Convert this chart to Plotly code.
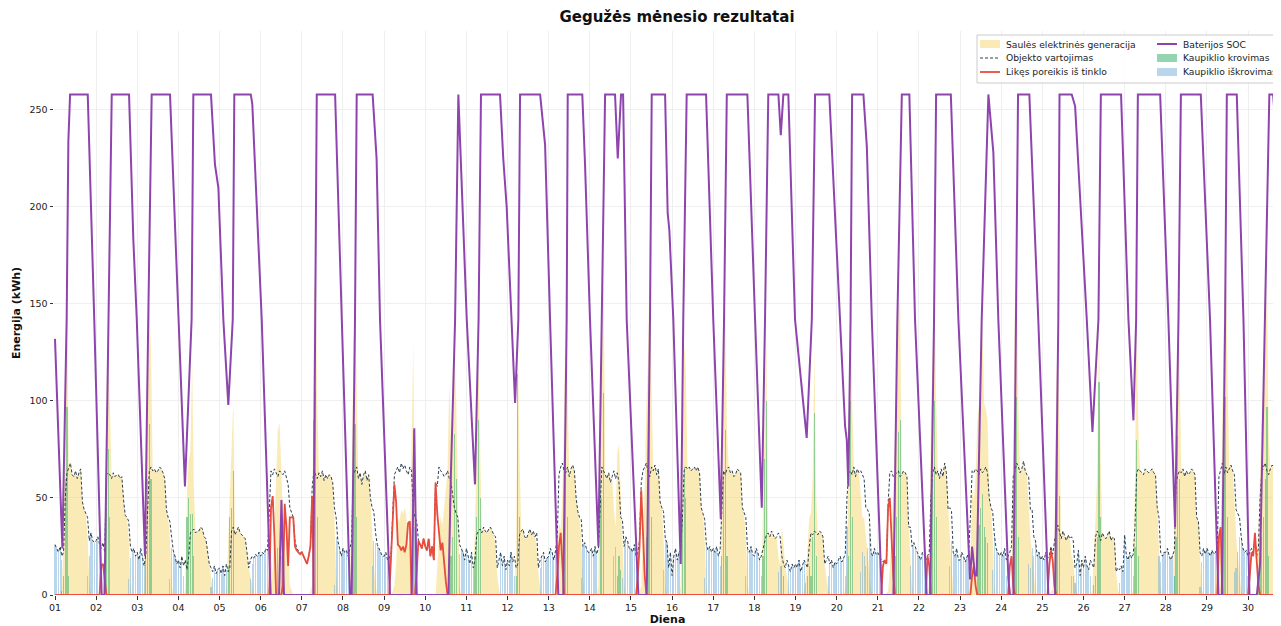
import pandas as pd
import plotly.graph_objects as go

START = pd.Timestamp("2024-05-01 00:00")
FONT = "DejaVu Sans"

# Hourly consumption per day (kWh), May 1 .. May 30
cons_days = [
    [26,24,22,25,20,22,50,63,66,68,62,61,64,60,63,65,48,44,42,40,28,32,28,27],
    [28,30,26,24,27,22,62,63,62,60,63,61,62,62,60,61,49,41,40,38,25,22,24,20],
    [22,18,24,20,15,21,40,64,66,64,65,63,64,66,65,63,60,44,40,38,30,23,20,16],
    [18,14,20,15,18,13,20,32,33,34,32,33,33,35,34,30,29,22,16,14,12,15,11,13],
    [14,11,15,10,16,12,14,33,35,31,33,35,32,31,30,29,22,14,18,20,19,21,20,22],
    [20,22,21,24,23,40,64,62,65,63,61,64,63,62,64,60,57,45,42,40,28,24,23,22],
    [22,20,18,16,20,25,55,64,62,60,63,61,64,59,62,60,62,61,58,45,40,28,24,20],
    [24,22,23,20,24,28,62,64,66,60,63,57,62,64,59,62,50,45,43,32,26,24,22,20],
    [20,22,18,19,21,45,62,64,66,63,68,65,67,64,62,66,64,44,40,38,28,26,24,29],
    [25,23,29,20,25,18,58,56,66,64,63,61,62,64,60,58,50,45,42,40,26,24,22,18],
    [24,20,16,22,14,18,31,33,34,32,35,33,32,34,35,33,31,30,14,18,22,15,20,13],
    [18,15,22,17,20,14,16,31,33,34,30,29,32,34,31,33,30,32,14,18,20,22,17,19],
    [20,24,22,18,23,30,62,66,68,64,63,66,61,65,67,64,50,43,40,39,25,27,24,22],
    [22,24,20,25,21,24,45,66,64,62,60,63,58,61,64,60,63,58,40,39,25,30,28,24],
    [24,22,26,20,22,28,58,64,66,68,63,61,66,64,67,62,65,48,45,43,29,27,14,22],
    [10,20,24,18,22,23,40,64,66,65,66,64,65,66,64,66,63,45,42,39,26,23,25,22],
    [24,22,25,20,23,40,64,62,65,66,63,64,61,62,65,64,63,45,42,40,24,22,25,21],
    [20,24,22,18,20,24,28,31,32,30,33,31,29,30,32,30,20,16,14,18,15,12,16,14],
    [16,14,18,12,15,18,16,14,25,32,31,33,32,31,33,32,30,16,18,20,16,18,14,17],
    [16,18,20,17,19,21,50,63,64,62,66,61,65,63,64,62,60,45,44,42,22,20,24,21],
    [22,20,18,17,18,16,47,63,64,61,62,63,64,61,62,64,63,61,35,35,25,27,24,22],
    [20,18,22,21,18,20,22,50,63,66,62,64,60,65,61,68,63,44,45,43,22,20,24,18],
    [18,22,20,17,20,22,40,64,63,65,64,62,65,63,64,66,63,50,45,43,31,24,22,20],
    [22,20,24,18,20,22,25,61,64,68,66,63,65,69,64,62,61,44,44,30,28,20,22,18],
    [20,18,22,19,20,25,21,28,33,36,32,29,33,30,28,31,29,30,28,14,16,23,10,18],
    [14,20,15,13,18,16,14,30,33,31,28,32,30,29,31,33,28,30,29,12,14,13,15,12],
    [31,20,18,22,19,21,35,63,65,64,63,62,65,64,63,64,65,63,62,45,40,22,20,22],
    [22,24,20,18,21,23,58,62,64,63,65,61,64,62,63,65,64,62,40,38,22,20,24,21],
    [24,22,20,23,21,22,25,61,64,68,62,66,63,65,67,64,62,44,42,40,30,24,22,23],
    [20,22,24,21,30,20,24,50,63,66,68,64,62,65,67,66,63,50,45,42,30,25,22,20],
]

# Hourly solar generation used (kWh)
solar_days = [
    [0,0,0,0,2,30,110,160,66,68,62,61,64,60,63,65,48,44,42,30,8,0,0,0],
    [0,0,0,0,2,30,100,140,100,60,63,61,62,62,60,61,49,41,40,30,6,0,0,0],
    [0,0,0,0,2,51,100,152,126,64,65,63,64,66,65,63,60,44,40,30,6,0,0,0],
    [0,0,0,0,3,53,70,74,121,54,32,33,33,35,34,30,29,22,16,10,3,0,0,0],
    [0,0,0,0,3,27,54,78,100,31,33,35,32,31,30,29,22,14,10,4,0,0,0,0],
    [0,0,0,0,2,5,19,11,35,63,85,89,63,32,17,25,42,5,2,0,0,0,0,0],
    [0,0,0,0,0,2,5,154,167,100,63,61,64,59,62,60,62,61,58,40,10,0,0,0],
    [0,0,0,0,0,48,122,152,106,60,63,57,62,64,59,62,50,30,15,5,0,0,0,0],
    [0,0,0,0,0,2,5,16,40,38,44,42,45,40,25,28,84,130,5,2,0,0,0,0],
    [0,0,0,0,0,0,0,14,32,41,36,45,55,64,110,78,80,128,102,40,5,0,0,0],
    [0,0,0,0,0,38,71,123,84,32,35,33,32,34,35,33,31,25,10,3,0,0,0,0],
    [0,0,0,0,0,24,130,71,33,34,30,29,32,34,31,33,30,25,12,4,0,0,0,0],
    [0,0,0,0,0,20,37,34,53,94,158,106,61,65,67,64,50,43,40,30,8,0,0,0],
    [0,0,0,0,0,5,105,116,168,62,60,63,58,61,44,35,73,78,53,30,5,0,0,0],
    [0,0,0,0,0,3,4,34,56,98,123,185,106,64,67,62,65,48,45,30,5,0,0,0],
    [0,0,0,0,0,5,80,130,116,65,66,64,65,66,64,66,63,45,42,30,5,0,0,0],
    [0,0,0,0,0,60,124,147,85,66,63,64,61,62,65,64,63,45,42,30,5,0,0,0],
    [0,0,0,0,0,44,98,131,32,30,33,31,29,30,20,15,35,26,14,10,3,0,0,0],
    [0,0,0,0,0,3,10,24,40,42,61,127,52,31,33,32,30,16,10,3,0,0,0,0],
    [0,0,0,0,0,3,15,83,164,102,66,61,65,63,50,40,40,30,20,10,3,0,0,0],
    [0,0,0,0,0,1,2,13,34,51,82,103,148,151,62,64,63,61,35,20,5,0,0,0],
    [0,0,0,0,0,0,7,90,123,166,102,64,60,65,61,68,63,44,30,15,2,0,0,0],
    [0,0,0,0,0,2,20,54,48,60,89,98,110,140,99,96,90,50,45,30,5,0,0,0],
    [0,0,0,0,0,2,5,81,154,170,96,63,65,69,64,62,45,30,20,10,2,0,0,0],
    [0,0,0,0,0,2,3,23,103,136,83,29,33,30,28,31,29,20,18,8,2,0,0,0],
    [0,0,0,0,0,2,19,40,63,141,68,32,30,29,31,33,28,30,29,12,3,0,0,0],
    [0,0,0,0,0,3,60,143,85,64,63,62,65,64,63,64,65,63,62,45,20,5,0,0],
    [0,0,0,0,0,33,88,144,124,63,65,61,64,62,63,65,64,62,40,38,18,3,0,0],
    [0,0,0,0,0,2,20,31,29,88,152,168,103,65,67,64,50,30,20,10,2,0,0,0],
    [0,0,0,0,0,2,29,65,93,106,128,161,83,65,67,66,50,45,20,8,2,0,0,0],
]

# Hourly battery discharge (kWh)
discharge_days = [
    [26,24,22,25,18,0,0,0,0,0,0,0,0,0,0,0,0,0,0,10,20,32,28,27],
    [28,30,26,0,0,0,0,0,0,0,0,0,0,0,0,0,0,0,0,8,19,22,24,20],
    [22,18,24,20,15,0,0,0,0,0,0,0,0,0,0,0,0,0,0,8,24,23,20,16],
    [18,14,20,10,0,0,0,0,0,0,0,0,0,0,0,0,0,0,0,4,9,15,11,13],
    [14,11,15,10,13,0,0,0,0,0,0,0,0,0,0,0,0,0,8,16,19,21,20,22],
    [20,22,21,24,23,25,0,0,0,0,0,0,20,29,0,0,0,0,0,0,0,0,0,0],
    [0,0,0,0,0,0,0,0,0,0,0,0,0,0,0,0,0,0,0,5,30,28,24,20],
    [24,22,23,20,10,0,0,0,0,0,0,0,0,0,0,0,0,15,28,27,26,24,22,20],
    [20,22,18,10,0,0,0,0,0,0,0,0,0,0,0,0,0,0,35,26,0,0,0,0],
    [0,0,0,0,0,0,0,0,0,0,0,0,0,0,0,0,0,0,0,0,21,24,22,18],
    [24,20,16,22,14,0,0,0,0,0,0,0,0,0,0,0,0,0,0,0,22,15,20,13],
    [18,15,22,17,10,0,0,0,0,0,0,0,0,0,0,0,0,0,0,14,20,22,17,19],
    [20,24,22,18,23,0,0,0,0,0,0,0,0,0,0,0,0,0,0,9,25,27,24,22],
    [22,24,20,25,21,0,0,0,0,0,0,0,0,0,20,25,0,0,0,9,25,30,28,24],
    [24,22,26,15,0,0,0,0,0,0,0,0,0,0,0,0,0,0,0,13,29,27,14,22],
    [10,20,24,18,22,0,0,0,0,0,0,0,0,0,0,0,0,0,0,9,26,23,25,22],
    [24,22,25,20,15,0,0,0,0,0,0,0,0,0,0,0,0,0,0,10,24,22,25,21],
    [20,24,22,18,10,0,0,0,0,0,0,0,0,0,12,15,0,0,0,0,15,12,16,14],
    [16,14,18,12,15,18,6,0,0,0,0,0,0,0,0,0,0,0,0,10,16,18,14,17],
    [16,18,20,17,19,10,35,0,0,0,0,0,0,0,12,22,20,15,24,32,22,20,24,21],
    [22,20,8,0,0,0,0,0,0,0,0,0,0,0,0,0,0,0,0,15,25,27,24,22],
    [20,18,22,21,12,0,0,0,0,0,0,0,0,0,0,0,0,0,15,28,22,20,24,18],
    [18,22,20,17,20,15,0,0,0,0,0,0,0,0,0,0,0,0,0,13,31,24,22,20],
    [22,20,24,10,0,0,0,0,0,0,0,0,0,0,0,0,16,14,24,20,28,20,22,18],
    [20,18,22,10,0,0,0,0,0,0,0,0,0,0,0,0,0,10,10,6,16,23,10,18],
    [14,20,15,13,10,0,0,0,0,0,0,0,0,0,0,0,0,0,0,0,0,6,15,12],
    [31,20,18,22,19,10,0,0,0,0,0,0,0,0,0,0,0,0,0,0,20,17,20,22],
    [22,24,20,18,21,10,0,0,0,0,0,0,0,0,0,0,0,0,0,0,4,17,24,21],
    [24,22,20,23,21,22,5,0,0,0,0,0,0,0,0,0,12,14,22,30,28,24,22,23],
    [10,0,0,0,0,0,0,0,0,0,0,0,0,0,0,13,13,5,25,34,28,25,22,20],
]

# Battery charging (hour from May 1 00:00, kWh)
charge_points = [
    (4,2),(5,10),(6,60),(7,97),(8,10),
    (29,10),(30,45),(31,75),(32,40),
    (53,30),(54,60),(55,88),(56,60),
    (77,40),(78,50),(79,42),(80,42),(81,20),
    (101,15),(102,40),(103,45),(104,64),
    (130,24),(131,25),
    (151,90),(152,105),(153,40),
    (173,20),(174,60),(175,88),(176,40),
    (208,20),(209,85),
    (230,50),(231,20),(232,30),(233,83),(234,60),
    (245,20),(246,40),(247,90),(248,50),
    (269,10),(270,114),(271,40),
    (297,30),(298,95),(299,40),
    (318,60),(319,50),(320,104),(328,10),(329,20),(330,13),
    (345,30),(346,60),(347,124),(348,40),
    (366,40),(367,66),(368,50),
    (389,20),(390,60),(391,85),(392,20),
    (413,20),(414,70),(415,100),(424,15),(425,10),
    (439,10),(440,15),(441,10),(442,30),(443,94),(444,20),
    (463,20),(464,100),(465,40),
    (490,20),(491,40),(492,84),(493,90),
    (511,40),(512,60),(513,100),(514,40),
    (538,25),(539,36),(540,45),(541,52),(542,35),(543,30),(544,27),
    (559,20),(560,90),(561,102),(562,30),
    (584,70),(585,100),(586,51),
    (606,5),(607,10),(608,30),(609,110),(610,40),
    (630,25),(631,80),(632,20),
    (653,10),(654,30),(655,82),(656,60),
    (681,20),(682,90),(683,102),(684,40),
    (702,5),(703,15),(704,30),(705,40),(706,60),(707,97),(708,20),
]

# Remaining demand from grid (hour, kWh); all other hours are 0
grid_points = [
    (27,15),(28,16),(29,8),
    (126,45),(127,51),(128,30),(133,5),(134,47),(135,35),(136,15),(137,40),
    (138,40),(139,40),(140,25),(141,23),(142,22),(143,21),
    (144,22),(145,20),(146,18),(147,16),(148,20),(149,25),(150,51),
    (196,19),(197,40),(198,57),(199,48),(200,26),(201,25),(202,23),(203,25),
    (204,22),(205,26),(206,37),(207,38),
    (211,12),(212,28),(213,26),(214,24),(215,29),
    (216,25),(217,23),(218,29),(219,20),(220,25),(221,18),(222,58),(223,42),
    (224,34),(225,23),(226,27),(227,16),(228,7),
    (293,10),(294,25),(295,32),(296,15),
    (340,10),(341,25),(342,54),(343,30),(344,10),
    (483,15),(484,18),(485,16),(486,45),(487,50),(488,30),(489,10),
    (509,20),(510,15),
    (535,10),(536,15),(537,5),
    (557,15),(558,20),(559,5),
    (580,15),(581,23),(582,18),(583,5),
    (679,30),(680,35),
    (697,10),(698,22),(699,20),(700,32),(701,18),(702,5),
]

# Battery state of charge (hour, kWh)
soc_points = [
    (0,132),(4.3,24),(6.8,142),(7.8,234),(8.8,258),(19.1,258),(22.9,142),(27.2,0),
    (28.9,0),(31.1,142),(33.1,258),(43.2,258),(45.7,183),(47.7,142),(52.5,20),
    (54.4,142),(56.4,258),(67.1,258),(69.0,214),(71.0,158),(71.9,142),(75.8,56),
    (79.7,142),(80.7,258),(91.0,258),(93.3,222),(95.3,210),(98.2,142),(101.1,98),
    (103.7,142),(104.6,258),(114.2,258),(115.1,253),(120.6,142),(125.8,0),
    (130.7,0),(132.1,49),(133.6,0),(150.7,0),(152.7,258),(163.4,258),(167.3,142),
    (172.1,0),(173.1,0),(175.0,142),(176.0,258),(185.3,258),(187.6,225),(189.6,142),
    (195.4,0),(208.1,0),(209.6,86),(211.0,0),(229.5,0),(230.9,60),(233.4,142),
    (235.3,258),(240.2,142),(245.0,57),(247.1,142),(248.5,258),(259.6,258),
    (261.5,225),(263.5,200),(266.4,142),(268.4,99),(270.3,142),(271.3,258),
    (283.0,258),(285.9,232),(288.8,142),(293.6,0),(296.5,0),(298.5,142),(299.1,258),
    (307.6,258),(309.2,222),(312.1,142),(317.0,25),(318.9,142),(320.9,258),
    (326.7,258),(328.3,225),(330.2,258),(331.4,258),(333.5,142),(340.3,0),
    (345.2,0),(347.1,142),(348.1,258),(355.9,258),(357.4,197),(358.4,188),
    (360.7,142),(365.0,16),(366.5,142),(368.5,258),(379.8,258),(384.0,142),
    (388.4,39),(390.3,142),(391.9,258),(403.9,258),(408.4,142),(412.3,45),
    (414.2,142),(416.1,258),(422.0,258),(423.4,237),(424.9,258),(427.8,258),
    (431.7,142),(438.5,81),(441.5,142),(443.4,258),(451.7,258),(458.0,142),
    (460.9,87),(461.9,80),(462.8,56),(464.1,142),(465.0,258),(471.6,258),
    (473.6,231),(476.5,142),(482.3,0),(489.1,0),(491.4,142),(494.0,258),
    (498.4,258),(501.7,142),(508.5,0),(510.5,0),(512.8,142),(514.0,258),
    (522.6,258),(527.0,142),(533.8,8),(535.0,25),(536.7,10),(537.7,10),
    (540.6,142),(544.5,258),(545.9,245),(547.4,228),(550.3,142),(556.2,8),
    (557.1,0),(559.1,0),(560.6,142),(561.8,258),(568.4,258),(573.6,142),
    (579.5,0),(583.4,0),(585.3,142),(586.0,258),(593.1,258),(593.9,255),
    (595.1,252),(601.9,142),(605.2,84),(608.7,142),(610.1,258),(621.9,258),
    (626.2,142),(629.1,90),(630.7,142),(631.7,258),(644.7,258),(649.5,142),
    (653.4,35),(655.4,142),(656.8,258),(668.4,258),(673.8,142),(678.7,0),
    (680.7,0),(682.6,142),(683.6,258),(689.4,258),(693.3,142),(696.8,0),
    (701.1,0),(703.0,16),(705.9,142),(708.4,258),(710.6,258),(711.7,245),
    (712.9,241),(715.2,200),(717.6,150),
]

for nm, rows in (("cons", cons_days), ("solar", solar_days), ("dis", discharge_days)):
    assert len(rows) == 30, nm
    for i, r in enumerate(rows):
        assert len(r) == 24, (nm, i, len(r))

n_hours = 24 * len(cons_days)
times = [START + pd.Timedelta(hours=h) for h in range(n_hours)]
consumption = [v for row in cons_days for v in row]
solar = [v for row in solar_days for v in row]
discharge = [v for row in discharge_days for v in row]
grid = [0] * n_hours
for h, v in grid_points:
    grid[h] = v
chg_x = [START + pd.Timedelta(hours=h) for h, _ in charge_points]
chg_y = [v for _, v in charge_points]
soc_x = [START + pd.Timedelta(hours=h) for h, _ in soc_points]
soc_y = [v for _, v in soc_points]

BAR_W = 0.7 * 3600 * 1000
C_SOLAR = "rgba(245,215,110,0.5)"
C_CONS = "#2c3e50"
C_GRID = "#e74c3c"
C_SOC = "#8e44ad"
C_CHG = "rgba(60,179,113,0.55)"
C_DIS = "rgba(100,165,215,0.45)"

fig = go.Figure()
fig.add_trace(go.Scatter(x=times, y=solar, mode="lines", fill="tozeroy",
                         line=dict(width=0, color=C_SOLAR), fillcolor=C_SOLAR,
                         name="Saulės elektrinės generacija", showlegend=False, zorder=0))
fig.add_trace(go.Bar(x=times, y=discharge, width=BAR_W, marker=dict(color=C_DIS, line=dict(width=0)),
                     name="Kaupiklio iškrovimas", showlegend=False, zorder=1))
fig.add_trace(go.Bar(x=chg_x, y=chg_y, width=BAR_W, marker=dict(color=C_CHG, line=dict(width=0)),
                     name="Kaupiklio krovimas", showlegend=False, zorder=1))
fig.add_trace(go.Scatter(x=times, y=consumption, mode="lines",
                         line=dict(color=C_CONS, width=1, dash="3px,2px"),
                         name="Objekto vartojimas", showlegend=False, zorder=2))
fig.add_trace(go.Scatter(x=times, y=grid, mode="lines", line=dict(color=C_GRID, width=1.8),
                         name="Likęs poreikis iš tinklo", showlegend=False, zorder=3))
fig.add_trace(go.Scatter(x=soc_x, y=soc_y, mode="lines", line=dict(color=C_SOC, width=2),
                         name="Baterijos SOC", showlegend=False, zorder=4))

# The page shows the figure 8px in from the top-left corner, so the figure is
# laid out 8px smaller and every pixel position is taken 8px earlier.
OFF = 8
W, H = 1281 - OFF, 626 - OFF
L, R, T = 54 - OFF, 0, 31 - OFF
B = H - (595 - OFF)
PW, PH = W - L - R, H - T - B


def px(x):
    return (x - OFF - L) / PW


def py(y):
    return (H - B - (y - OFF)) / PH


shapes = [
    dict(type="rect", xref="paper", yref="paper", x0=px(977), x1=px(1300), y0=py(83), y1=py(35),
         fillcolor="rgba(255,255,255,0.85)", line=dict(color="#cccccc", width=1), layer="above"),
    dict(type="rect", xref="paper", yref="paper", x0=px(980), x1=px(1000), y0=py(48), y1=py(40),
         fillcolor=C_SOLAR, line=dict(width=0), layer="above"),
    dict(type="line", xref="paper", yref="paper", x0=px(980), x1=px(1000), y0=py(58), y1=py(58),
         line=dict(color=C_CONS, width=1, dash="3px,2px"), layer="above"),
    dict(type="line", xref="paper", yref="paper", x0=px(980), x1=px(1000), y0=py(72), y1=py(72),
         line=dict(color=C_GRID, width=1.8), layer="above"),
    dict(type="line", xref="paper", yref="paper", x0=px(1157), x1=px(1177), y0=py(44), y1=py(44),
         line=dict(color=C_SOC, width=2), layer="above"),
    dict(type="rect", xref="paper", yref="paper", x0=px(1157), x1=px(1177), y0=py(62), y1=py(54),
         fillcolor=C_CHG, line=dict(width=0), layer="above"),
    dict(type="rect", xref="paper", yref="paper", x0=px(1157), x1=px(1177), y0=py(76), y1=py(68),
         fillcolor=C_DIS, line=dict(width=0), layer="above"),
]

legend_items = [
    ("Saulės elektrinės generacija", 1004, 44),
    ("Objekto vartojimas", 1004, 58),
    ("Likęs poreikis iš tinklo", 1004, 72),
    ("Baterijos SOC", 1181, 44),
    ("Kaupiklio krovimas", 1181, 58),
    ("Kaupiklio iškrovimas", 1181, 72),
]
annotations = [
    dict(text=t, x=px(x), y=py(y), xref="paper", yref="paper", xanchor="left", yanchor="middle",
         showarrow=False, font=dict(family=FONT, size=9.2, color="#222"))
    for t, x, y in legend_items
]

axis_common = dict(
    showline=True, linecolor="#333", linewidth=1,
    ticks="outside", ticklen=3.5, tickcolor="#333", tickwidth=1,
    showgrid=True, gridcolor="#efefef", gridwidth=1,
    zeroline=False, automargin=False, layer="below traces",
    tickfont=dict(family=FONT, size=9.5, color="#222"),
)

fig.update_layout(
    width=W, height=H,
    margin=dict(l=L, r=R, t=T, b=B),
    paper_bgcolor="white", plot_bgcolor="white",
    barmode="overlay", bargap=0,
    showlegend=False,
    title=dict(text="<b>Gegužės mėnesio rezultatai</b>", x=(677 - OFF) / W, xref="container",
               xanchor="center", y=1 - (17 - OFF) / H, yref="container", yanchor="middle",
               font=dict(family=FONT, size=15, color="#111")),
    xaxis=dict(
        type="date",
        range=[START - pd.Timedelta(minutes=35), START + pd.Timedelta(hours=715.2)],
        tick0=START, dtick=86400000, tickformat="%d", mirror=True,
        title=dict(text="<b>Diena</b>", font=dict(family=FONT, size=11, color="#111"), standoff=2),
        **axis_common,
    ),
    yaxis=dict(
        range=[0, 290.7], tick0=0, dtick=50, mirror=False,
        title=dict(text="<b>Energija (kWh)</b>", font=dict(family=FONT, size=11, color="#111"), standoff=6),
        **axis_common,
    ),
    shapes=shapes,
    annotations=annotations,
    hovermode=False,
)

fig.write_html("out.html")
